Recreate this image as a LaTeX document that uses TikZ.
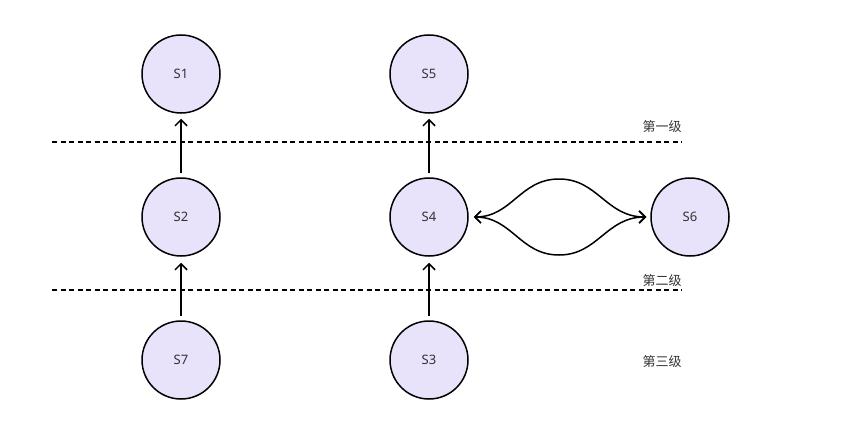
\documentclass[tikz,border=0pt]{standalone}
\usepackage{fontspec}
\setmainfont{Noto Sans}
\newfontfamily\cjk{Noto Sans CJK SC}
\usetikzlibrary{arrows.meta}
\definecolor{nodefill}{HTML}{E8E3FB}
\definecolor{txt}{HTML}{333333}
\begin{document}
\begin{tikzpicture}[x=1pt,y=-1pt,
  state/.style={circle,draw=black,line width=1.5pt,fill=nodefill,minimum size=78pt,inner sep=0pt,font=\fontsize{13}{15}\selectfont,text=txt},
  lvl/.style={font=\cjk\fontsize{13}{15}\selectfont,text=txt},
  conn/.style={line width=1.5pt,-{Straight Barb[length=6pt,width=12pt,line width=1.5pt]}},
  sep/.style={line width=1.5pt,dash pattern=on 5pt off 3.5pt}]
\useasboundingbox (0,0) rectangle (842,425);
\node[state] (S1) at (181,74) {S1};
\node[state] (S5) at (429,74) {S5};
\node[state] (S2) at (181,217) {S2};
\node[state] (S4) at (429,217) {S4};
\node[state] (S6) at (690,217) {S6};
\node[state] (S7) at (181,360) {S7};
\node[state] (S3) at (429,360) {S3};
\coordinate (d1a) at (52,142); \coordinate (d1b) at (682,142);
\coordinate (d2a) at (52,290); \coordinate (d2b) at (682,290);
\draw[sep] (d1a) -- (d1b);
\draw[sep] (d2a) -- (d2b);
\node[lvl] (L1) at (662,127) {第一级};
\node[lvl] (L2) at (662,281) {第二级};
\node[lvl] (L3) at (662,362) {第三级};
\draw[conn,shorten <=4pt,shorten >=5pt] (S2) -- (S1);
\draw[conn,shorten <=4pt,shorten >=5pt] (S4) -- (S5);
\draw[conn,shorten <=4pt,shorten >=6pt] (S7) -- (S2);
\draw[conn,shorten <=4pt,shorten >=6pt] (S3) -- (S4);
\draw[line width=1.5pt,{Straight Barb[length=6pt,width=12pt,line width=1.5pt]}-{Straight Barb[length=6pt,width=12pt,line width=1.5pt]},shorten <=5pt,shorten >=4pt]
  (S4.east) .. controls (512,217) and (520,179) .. (559,179) .. controls (598,179) and (606,217) .. (S6.west);
\draw[line width=1.5pt,{Straight Barb[length=6pt,width=12pt,line width=1.5pt]}-{Straight Barb[length=6pt,width=12pt,line width=1.5pt]},shorten <=5pt,shorten >=4pt]
  (S4.east) .. controls (512,217) and (520,255) .. (559,255) .. controls (598,255) and (606,217) .. (S6.west);
\end{tikzpicture}
\end{document}
